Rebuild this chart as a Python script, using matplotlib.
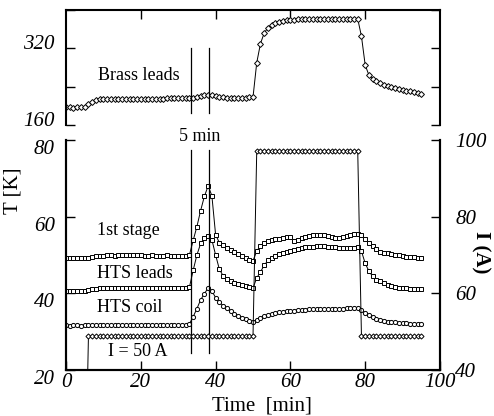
import numpy as np
import matplotlib.pyplot as plt
from matplotlib.transforms import ScaledTranslation

plt.rcParams['font.family'] = ['Liberation Serif', 'DejaVu Serif']

# --- data: one sample per minute ---
time_min = np.arange(0, 96)

brass = [197, 197, 196.5, 197, 197, 197.5,
         203, 209, 212, 213.5, 214,
         214.5, 214.5, 214.5, 214.5, 215, 215, 214.5, 214.5, 215, 215,
         215, 215, 215, 215, 215, 215, 215.5, 215.5, 215.5, 215.5,
         216, 216,
         216.5, 217, 218.5, 220.5, 222, 223,
         222, 220, 218.5, 217.5, 217, 217, 217, 217, 217, 217, 217.5, 218,
         290, 330, 352, 363, 369, 373, 375.5, 377, 378.5, 379.5,
         380, 380.5, 381, 381, 381.5, 381.5, 381.5, 381.5, 381.5, 381.5,
         381.5, 381.5, 381.5, 381.5, 381.5, 381.5, 381.5, 381.5, 345, 285,
         264, 256, 251, 247, 244, 241.5, 239.5, 237.5, 235.5, 233.5,
         231.5, 230, 228, 226.5, 224.5]

first_stage = [49.2, 49.2, 49.1, 49.2, 49.2, 49.2,
               49.3, 49.5, 49.7, 49.8, 49.8,
               49.9, 49.9, 49.8, 49.9, 50.0, 50.0, 49.9, 50.0, 50.0, 49.9,
               49.8, 49.8, 49.9, 49.8, 49.8, 49.8, 49.9, 49.8, 49.8, 49.8,
               49.8, 49.8,
               50.0, 53.8, 57.4, 61.6, 65.3, 68.0,
               65.5, 55.3, 53.2, 52.5, 51.9, 51.3, 50.7, 50.2, 49.7, 49.2, 48.8, 48.5,
               51.0, 52.4, 53.1, 53.6, 53.9, 54.1, 54.3, 54.5, 54.7, 54.8,
               53.7, 54.0, 54.4, 54.6, 54.9, 55.1, 55.2, 55.2, 55.2, 55.0,
               54.7, 54.4, 54.5, 54.8, 55.0, 55.2, 55.4, 55.6, 55.3, 54.2,
               53.2, 52.3, 51.5, 50.9, 50.6, 50.4, 50.2, 50.0, 49.9, 49.8,
               49.6, 49.5, 49.4, 49.3, 49.3]

hts_leads = [40.7, 40.7, 40.6, 40.7, 40.7, 40.7,
             40.8, 41.0, 41.2, 41.3, 41.3,
             41.4, 41.4, 41.3, 41.4, 41.5, 41.5, 41.4, 41.4, 41.5, 41.4,
             41.3, 41.3, 41.4, 41.3, 41.3, 41.3, 41.4, 41.3, 41.3, 41.3,
             41.3, 41.3,
             41.6, 46.0, 50.0, 53.0, 54.4, 55.0,
             54.0, 50.0, 46.3, 44.6, 43.7, 43.1, 42.7, 42.4, 42.1, 41.9, 41.6, 41.4,
             44.0, 45.6, 47.3, 48.6, 49.3, 49.8, 50.3, 50.6, 50.9, 51.1,
             51.3, 51.6, 51.8, 52.0, 52.1, 52.2, 52.3, 52.3, 52.3, 52.2,
             52.2, 52.0, 51.8, 51.7, 51.7, 51.8, 51.9, 52.0, 51.0, 47.8,
             45.8, 44.4, 43.6, 43.1, 42.7, 42.3, 42.0, 41.7, 41.5, 41.4,
             41.3, 41.2, 41.1, 41.1, 41.0]

hts_coil = [31.7, 31.6, 31.7, 31.7, 31.6, 31.7,
            31.7, 31.7, 31.8, 31.7, 31.7,
            31.8, 31.7, 31.7, 31.8, 31.8, 31.7, 31.8, 31.8, 31.7, 31.8,
            31.8, 31.8, 31.7, 31.8, 31.8, 31.8, 31.7, 31.8, 31.8, 31.8,
            31.8, 31.8,
            32.0, 33.9, 36.0, 38.3, 39.9, 41.4,
            40.6, 38.9, 37.7, 36.8, 36.1, 35.4, 34.7, 34.1, 33.6, 33.2, 32.8, 32.6,
            33.1, 33.6, 34.0, 34.3, 34.6, 34.8, 35.0, 35.2, 35.3, 35.4,
            35.5, 35.6, 35.7, 35.7, 35.8, 35.9, 35.9, 35.9, 35.9, 35.9,
            35.9, 36.0, 36.0, 36.0, 36.1, 36.1, 36.2, 36.3, 35.6, 34.9,
            34.3, 33.8, 33.3, 33.0, 32.8, 32.6, 32.5, 32.4, 32.3, 32.2,
            32.2, 32.1, 32.1, 32.0, 32.0]

current = [0, 0, 0, 0, 0, 0,
           48.8, 48.8, 48.8, 48.8, 48.8, 48.8, 48.8, 48.8, 48.8, 48.8,
           48.8, 48.8, 48.8, 48.8, 48.8, 48.8, 48.8, 48.8, 48.8, 48.8,
           48.8, 48.8, 48.8, 48.8, 48.8, 48.8, 48.8, 48.8, 48.8, 48.8,
           48.8, 48.8, 48.8, 48.8, 48.8, 48.8, 48.8, 48.8, 48.8, 48.8,
           48.8, 48.8, 48.8, 48.8, 48.8,
           97.2, 97.2, 97.2, 97.2, 97.2, 97.2, 97.2, 97.2, 97.2, 97.2,
           97.2, 97.2, 97.2, 97.2, 97.2, 97.2, 97.2, 97.2, 97.2, 97.2,
           97.2, 97.2, 97.2, 97.2, 97.2, 97.2, 97.2, 97.2,
           48.8, 48.8, 48.8, 48.8, 48.8, 48.8, 48.8, 48.8, 48.8, 48.8,
           48.8, 48.8, 48.8, 48.8, 48.8, 48.8, 48.8]

# the "5 min" window
window_t = [33.3, 38.2]

# --- figure ---
fig = plt.figure(figsize=(4.94, 4.16), dpi=100)
ax_top = fig.add_axes([66/494, 1 - 125/416, 374/494, 115/416])
ax_bot = fig.add_axes([66/494, 1 - 370/416, 374/494, 230/416])
ax_cur = ax_bot.twinx()

st = dict(color='black', lw=0.7, mfc='white', mec='black', mew=0.7)

ax_top.plot(time_min, brass, marker='D', ms=3, **st)
ax_bot.plot(time_min, first_stage, marker='s', ms=3.2, **st)
ax_bot.plot(time_min, hts_leads, marker='s', ms=3.2, **st)
ax_bot.plot(time_min, hts_coil, marker='o', ms=3, **st)
ax_cur.plot(time_min, current, marker='D', ms=2.6, **st)

for t in window_t:
    ax_top.plot([t, t], [185, 320], color='black', lw=0.9)
    ax_bot.plot([t, t], [24.4, 77.4], color='black', lw=0.9)

ax_bot.text(np.mean(window_t), 80.8, '5 min', ha='center', va='center',
            fontsize=13, clip_on=False)

ax_top.text(8.6, 264, 'Brass leads', fontsize=13, va='center')
ax_bot.text(8.3, 56.5, '1st stage', fontsize=13, va='center')
ax_bot.text(8.3, 45.3, 'HTS leads', fontsize=13, va='center')
ax_bot.text(8.3, 36.4, 'HTS coil', fontsize=13, va='center')
ax_bot.text(11.2, 24.7, 'I = 50 A', fontsize=13, va='center')

# --- axes styling ---
for ax in (ax_top, ax_bot, ax_cur):
    for s in ax.spines.values():
        s.set_linewidth(1.5)
    ax.set_xlim(0, 100)

ax_top.set_ylim(160, 400)
ax_top.spines['bottom'].set_visible(False)
ax_top.xaxis.set_ticks_position('top')
ax_top.set_xticks([20, 40, 60, 80], labels=[])
ax_top.set_yticks([160, 240, 320, 400], labels=['160', '', '320', ''],
                  fontstyle='italic')
ax_top.tick_params(axis='both', direction='in', length=6.5, width=1,
                   right=True, labelsize=15)
ax_top.tick_params(axis='y', pad=8)

ax_bot.set_ylim(20, 80)
ax_bot.spines['top'].set_visible(False)
ax_bot.set_xticks([0, 20, 40, 60, 80, 100],
                  labels=['0', '20', '40', '60', '80', '100'], fontstyle='italic')
ax_bot.set_yticks([20, 40, 60, 80], labels=['20', '40', '60', '80'],
                  fontstyle='italic')
ax_bot.tick_params(axis='both', direction='in', length=6.5, width=1,
                   labelsize=15, top=False)
ax_bot.tick_params(axis='y', pad=8)
ax_bot.tick_params(axis='x', pad=2.5)

ax_cur.set_ylim(40, 100)
ax_cur.spines['top'].set_visible(False)
ax_cur.set_yticks([40, 60, 80, 100], labels=['40', '60', '80', '100'],
                  fontstyle='italic')
ax_cur.tick_params(axis='y', direction='in', length=6.5, width=1,
                   labelsize=15, pad=11)

# old-style label offsets
up = ScaledTranslation(0, 6/100, fig.dpi_scale_trans)
down = ScaledTranslation(0, -7/100, fig.dpi_scale_trans)
for lab in ax_top.get_yticklabels():
    lab.set_transform(lab.get_transform() + up)
for lab in ax_bot.get_yticklabels():
    lab.set_transform(lab.get_transform() + down)

fig.text(13/494, 1 - 191/416, 'T [K]', rotation=90, fontsize=15,
         ha='center', va='center')
fig.text(481/494, 1 - 252/416, 'I (A)', rotation=270, fontsize=15,
         fontweight='bold', ha='center', va='center')
fig.text(262/494, 1 - 410/416, 'Time  [min]', fontsize=15,
         ha='center', va='baseline')

fig.savefig('out.png', dpi=100)
